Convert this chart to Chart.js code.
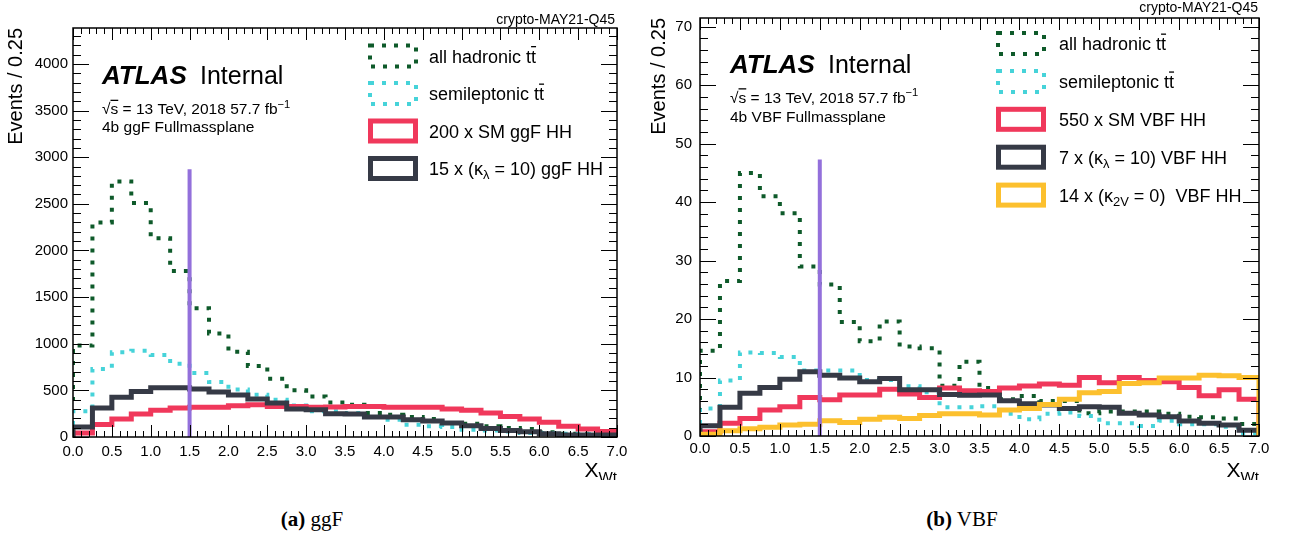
<!DOCTYPE html>
<html>
<head>
<meta charset="utf-8">
<script src="https://cdn.jsdelivr.net/npm/chart.js@4.4.1/dist/chart.umd.min.js"></script>
<style>
  body { margin: 0; background: #fff; width: 1292px; height: 543px; position: relative; overflow: hidden; }
  canvas { position: absolute; top: 0; }
  #ggf { left: 0; }
  #vbf { left: 640px; }
  .cap { position: absolute; top: 509px; font-family: "Liberation Serif", "Times New Roman", serif; font-size: 21px; line-height: 1; transform: translateX(-50%); white-space: nowrap; color: #000; }
</style>
</head>
<body>
<canvas id="ggf" width="640" height="480"></canvas>
<canvas id="vbf" width="652" height="480"></canvas>
<div class="cap" style="left:312px"><b>(a)</b> ggF</div>
<div class="cap" style="left:962px"><b>(b)</b> VBF</div>
<script>
const FONT = '"Liberation Sans", Arial, Helvetica, sans-serif';

// lower edges of the X_Wt bins (width 0.25)
const binLow = [0.0, 0.25, 0.5, 0.75, 1.0, 1.25, 1.5, 1.75, 2.0, 2.25, 2.5, 2.75, 3.0, 3.25,
                3.5, 3.75, 4.0, 4.25, 4.5, 4.75, 5.0, 5.25, 5.5, 5.75, 6.0, 6.25, 6.5, 6.75];
const binWidth = 0.25;
const xCut = 1.5;
const xTicks = [0, 0.5, 1, 1.5, 2, 2.5, 3, 3.5, 4, 4.5, 5, 5.5, 6, 6.5, 7];

// (a) ggF
const ggfHadronic = [980, 2300, 2740, 2510, 2130, 1780, 1380, 1110, 915, 760, 625, 500, 435, 370,
                     345, 257, 239, 215, 193, 150, 143, 114, 96, 86, 50, 36, 36, 25];
const ggfSemilep  = [275, 730, 908, 926, 880, 786, 687, 590, 508, 454, 400, 339, 275, 275,
                     257, 215, 186, 132, 114, 107, 77, 71, 60, 43, 43, 36, 29, 21];
const ggfSM200    = [43, 135, 193, 247, 286, 311, 318, 318, 335, 346, 328, 328, 318, 322,
                     328, 328, 318, 318, 318, 300, 286, 257, 221, 193, 157, 114, 86, 60];
const ggfKl10     = [107, 311, 425, 489, 529, 529, 515, 483, 451, 408, 365, 300, 293, 250,
                     247, 215, 215, 186, 172, 150, 121, 92, 71, 57, 35, 21, 21, 21];
const ggfCutTop = 2870;
const ggfYMax = 4385;
const ggfYTicks = [0, 500, 1000, 1500, 2000, 2500, 3000, 3500, 4000];

// (b) VBF
const vbfHadronic = [14.6, 26.5, 45, 41, 38.1, 29, 25.9, 19.5, 16.2, 19.6, 15.3, 15, 8.6, 12.7,
                     8.2, 6.3, 6.85, 6.0, 6.0, 3.9, 4.2, 4.2, 4.2, 3.8, 3.3, 3.2, 3.0, 2.05];
const vbfSemilep  = [4.7, 9.5, 14.3, 14.2, 13.5, 11.2, 11.2, 11.2, 9.6, 9.6, 8.5, 7.5, 4.9, 4.9,
                     5.1, 3.8, 2.85, 3.8, 4.0, 3.4, 2.2, 2.2, 1.7, 2.6, 2.0, 2.0, 1.6, 0.45];
const vbfSM550    = [0.74, 2.17, 3.0, 4.45, 5.0, 6.6, 6.2, 7.0, 7.0, 8.0, 7.2, 6.6, 8.2, 7.75,
                     7.6, 8.2, 8.56, 8.9, 8.7, 10.0, 9.1, 10.0, 9.5, 9.3, 8.3, 6.9, 7.9, 6.3];
const vbfKl10     = [1.77, 4.9, 7.3, 8.3, 9.7, 11.0, 10.4, 9.9, 9.3, 9.85, 7.9, 7.9, 7.1, 6.97,
                     7.0, 6.05, 5.5, 5.3, 4.7, 5.0, 4.9, 3.9, 3.6, 3.3, 2.57, 2.2, 1.88, 1.0];
const vbfK2v0     = [0.3, 0.9, 1.25, 1.5, 1.9, 2.0, 2.6, 2.3, 2.85, 3.2, 3.0, 3.5, 3.8, 3.8,
                     3.6, 4.45, 4.7, 5.4, 6.3, 7.4, 7.6, 9.0, 9.1, 9.9, 9.9, 10.4, 10.3, 10.0];
const vbfCutTop = 47.3;
const vbfYMax = 71.5;
const vbfYTicks = [0, 10, 20, 30, 40, 50, 60, 70];

const C = {
  green: '#0e5a2a', cyan: '#46d3d9', red: '#f0385b',
  dark: '#363a46', yellow: '#fcc02e', purple: '#9370db'
};

// step outline going back down to zero at both ends, like a ROOT hist
function histPoints(values) {
  const pts = [{x: binLow[0], y: 0}];
  values.forEach((v, i) => pts.push({x: binLow[i], y: v}));
  const end = binLow[binLow.length - 1] + binWidth;
  pts.push({x: end, y: values[values.length - 1]});
  pts.push({x: end, y: 0});
  return pts;
}

function hist(label, values, color, dotted, order) {
  return {
    label, data: histPoints(values), order,
    borderColor: color, borderWidth: dotted ? 4 : 5,
    borderDash: dotted ? [4, 8] : [], borderCapStyle: 'butt', borderJoinStyle: 'miter',
    stepped: true, pointRadius: 0, fill: false
  };
}

function cutLine(top) {
  return {
    label: 'cut', data: [{x: xCut, y: 0}, {x: xCut, y: top}], order: 0,
    borderColor: C.purple, borderWidth: 4, pointRadius: 0, fill: false
  };
}

// draw text made of pieces: [text, kind], kind = '' | 'sub' | 'sup' | 'bar' | 'bi'
function rich(ctx, x, y, parts, size, align) {
  const fontFor = k => {
    if (k === 'sub' || k === 'sup') return (size * 0.72) + 'px ' + FONT;
    if (k === 'bi') return 'bold italic ' + size + 'px ' + FONT;
    return size + 'px ' + FONT;
  };
  let total = 0;
  parts.forEach(([t, k]) => { ctx.font = fontFor(k); total += ctx.measureText(t).width; });
  if (align === 'right') x -= total;
  ctx.textAlign = 'left';
  ctx.textBaseline = 'alphabetic';
  parts.forEach(([t, k]) => {
    ctx.font = fontFor(k);
    const w = ctx.measureText(t).width;
    let dy = 0;
    if (k === 'sub') dy = size * 0.22;
    if (k === 'sup') dy = -size * 0.4;
    ctx.fillText(t, x, y + dy);
    if (k === 'bar') {
      ctx.save();
      ctx.lineWidth = 1.3;
      ctx.beginPath();
      ctx.moveTo(x, y - size * 0.88);
      ctx.lineTo(x + w, y - size * 0.88);
      ctx.stroke();
      ctx.restore();
    }
    x += w;
  });
}

const decor = {
  id: 'decor',
  afterDraw(chart, args, o) {
    const ctx = chart.ctx, a = chart.chartArea;
    const xs = chart.scales.x, ys = chart.scales.y;
    ctx.save();
    ctx.strokeStyle = '#000';
    ctx.fillStyle = '#000';
    ctx.lineWidth = 1;
    ctx.setLineDash([]);
    // ticks pointing into the frame on all four sides
    ctx.beginPath();
    for (let i = 0; i * 0.1 <= xs.max + 1e-9; i++) {
      const px = Math.round(xs.getPixelForValue(i * 0.1)) + 0.5;
      const len = i % 5 === 0 ? o.xMajorLen : o.xMajorLen / 2;
      ctx.moveTo(px, a.bottom); ctx.lineTo(px, a.bottom - len);
      ctx.moveTo(px, a.top); ctx.lineTo(px, a.top + len);
    }
    for (let k = 0; k * o.yMinor <= ys.max; k++) {
      const v = k * o.yMinor;
      const py = Math.round(ys.getPixelForValue(v)) + 0.5;
      const len = v % o.yMajor === 0 ? o.yMajorLen : o.yMajorLen / 2;
      ctx.moveTo(a.left, py); ctx.lineTo(a.left + len, py);
      ctx.moveTo(a.right, py); ctx.lineTo(a.right - len, py);
    }
    ctx.stroke();
    ctx.lineWidth = 1.5;
    ctx.strokeRect(a.left, a.top, a.right - a.left, a.bottom - a.top);

    // x axis title
    rich(ctx, a.right, o.xTitleY, [['X', ''], ['Wt', 'sub']], 21, 'right');

    // tag above the frame
    ctx.font = '14px ' + FONT;
    ctx.textAlign = 'right';
    ctx.fillText('crypto-MAY21-Q45', o.tag.x, o.tag.y);

    // ATLAS label and info lines
    rich(ctx, o.atlas.x, o.atlas.y, [['ATLAS', 'bi']], 26);
    rich(ctx, o.atlas.x + 98, o.atlas.y, [['Internal', '']], 25);
    o.info.forEach(l => rich(ctx, o.atlas.x, l.y, l.parts, 15.5));

    // legend
    const L = o.legend;
    L.entries.forEach((e, i) => {
      const cy = L.y0 + i * L.dy;
      ctx.save();
      ctx.strokeStyle = e.color;
      if (e.dotted) {
        ctx.lineWidth = 4; ctx.setLineDash([4, 8]);
        ctx.strokeRect(L.boxX + 2, cy - 10.5, 46, 21);
      } else {
        ctx.lineWidth = 5;
        ctx.strokeRect(L.boxX + 2.5, cy - 10, 45, 20);
      }
      ctx.restore();
      rich(ctx, L.textX, cy + 6.5, e.parts, 18);
    });
    ctx.restore();
  }
};

function makePanel(id, datasets, yMax, yTicks, o) {
  new Chart(document.getElementById(id), {
    type: 'line',
    data: {datasets},
    options: {
      responsive: false,
      animation: false,
      devicePixelRatio: 1,
      layout: {padding: o.padding},
      plugins: {legend: {display: false}, tooltip: {enabled: false}, decor: o},
      scales: {
        x: {
          type: 'linear', min: 0, max: 7,
          grid: {display: false, drawTicks: false}, border: {display: false},
          ticks: {
            autoSkip: false, maxRotation: 0,
            padding: o.xPad, color: '#000', font: {family: FONT, size: 15},
            callback: v => Number(v).toFixed(1)
          },
          afterBuildTicks: s => { s.ticks = xTicks.map(v => ({value: v})); },
          afterFit: s => { s.height = o.xHeight; }
        },
        y: {
          type: 'linear', min: 0, max: yMax,
          grid: {display: false, drawTicks: false}, border: {display: false},
          ticks: {
            autoSkip: false, padding: o.yPad, color: '#000',
            font: {family: FONT, size: 15}, callback: v => String(v)
          },
          afterBuildTicks: s => { s.ticks = yTicks.map(v => ({value: v})); },
          title: {
            display: true, text: 'Events / 0.25', align: 'end', color: '#000',
            font: {family: FONT, size: 20}, padding: {top: 4, bottom: 0}
          },
          afterFit: s => { s.width = o.yWidth; }
        }
      }
    },
    plugins: [decor]
  });
}

const ttbar = name => [[name + ' t', ''], ['t', 'bar']];
const sqrtLine = [['\u221A', ''], ['s', 'bar'], [' = 13 TeV, 2018 57.7 fb', ''], ['\u22121', 'sup']];

makePanel('ggf', [
  cutLine(ggfCutTop),
  hist('15 x (kl=10) ggF HH', ggfKl10, C.dark, false, 1),
  hist('200 x SM ggF HH', ggfSM200, C.red, false, 2),
  hist('semileptonic ttbar', ggfSemilep, C.cyan, true, 3),
  hist('all hadronic ttbar', ggfHadronic, C.green, true, 4)
], ggfYMax, ggfYTicks, {
  padding: {left: 0, top: 28, right: 23, bottom: 0},
  yWidth: 73, xHeight: 43, xPad: 6, yPad: 5,
  yMinor: 100, yMajor: 500, xMajorLen: 12, yMajorLen: 16,
  xTitleY: 477,
  tag: {x: 615, y: 24},
  atlas: {x: 102, y: 84},
  info: [{y: 114, parts: sqrtLine}, {y: 132, parts: [['4b ggF Fullmassplane', '']]}],
  legend: {
    boxX: 368, textX: 429, y0: 56, dy: 37.5,
    entries: [
      {color: C.green, dotted: true, parts: ttbar('all hadronic')},
      {color: C.cyan, dotted: true, parts: ttbar('semileptonic')},
      {color: C.red, parts: [['200 x SM ggF HH', '']]},
      {color: C.dark, parts: [['15 x (\u03BA', ''], ['\u03BB', 'sub'], [' = 10) ggF HH', '']]}
    ]
  }
});

makePanel('vbf', [
  cutLine(vbfCutTop),
  hist('14 x (k2V=0) VBF HH', vbfK2v0, C.yellow, false, 1),
  hist('7 x (kl=10) VBF HH', vbfKl10, C.dark, false, 2),
  hist('550 x SM VBF HH', vbfSM550, C.red, false, 3),
  hist('semileptonic ttbar', vbfSemilep, C.cyan, true, 4),
  hist('all hadronic ttbar', vbfHadronic, C.green, true, 5)
], vbfYMax, vbfYTicks, {
  padding: {left: 3, top: 18, right: 33, bottom: 0},
  yWidth: 57, xHeight: 44, xPad: 4, yPad: 8,
  yMinor: 2, yMajor: 10, xMajorLen: 12, yMajorLen: 16,
  xTitleY: 477,
  tag: {x: 618, y: 12},
  atlas: {x: 90, y: 72.5},
  info: [{y: 102.5, parts: sqrtLine}, {y: 122, parts: [['4b VBF Fullmassplane', '']]}],
  legend: {
    boxX: 356, textX: 419, y0: 43.5, dy: 37.9,
    entries: [
      {color: C.green, dotted: true, parts: ttbar('all hadronic')},
      {color: C.cyan, dotted: true, parts: ttbar('semileptonic')},
      {color: C.red, parts: [['550 x SM VBF HH', '']]},
      {color: C.dark, parts: [['7 x (\u03BA', ''], ['\u03BB', 'sub'], [' = 10) VBF HH', '']]},
      {color: C.yellow, parts: [['14 x (\u03BA', ''], ['2V', 'sub'], [' = 0)  VBF HH', '']]}
    ]
  }
});
</script>
</body>
</html>
